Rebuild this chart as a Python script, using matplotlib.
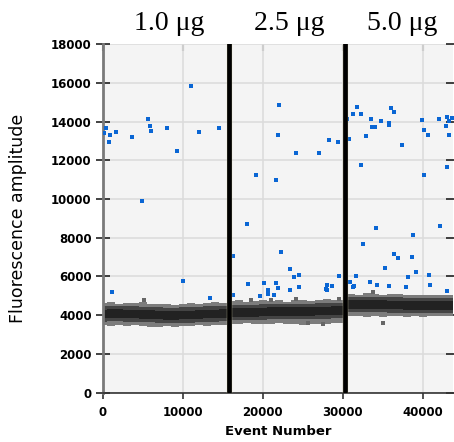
import matplotlib
matplotlib.use("Agg")
import matplotlib.pyplot as plt
import numpy as np

# dose labels and the event numbers where each new dose starts
dose_labels = ["1.0 μg", "2.5 μg", "5.0 μg"]
dose_label_x = [8300, 23300, 37400]
dose_breaks = [15825, 30325]

# positive droplets (blue), event number / amplitude
pos_x = [375, 125, 950, 1663, 825, 3663, 5663, 5875, 6000, 8038, 9325, 11000,
         12000, 14575, 4950, 1200, 10000, 13413,
         16325, 18000, 16325, 18125, 19200, 19663, 20200, 20700, 20700, 21413,
         21663, 21875, 21663, 21875, 22000, 22325, 23413, 23413, 23875, 24125,
         24575, 24575, 27075, 27875, 28000, 28000, 28250, 28700, 29413, 29538,
         30575, 30825, 30913, 31250, 31413, 31288, 31750, 31663, 32325, 32325,
         32575, 32875, 33413, 33538, 33700, 34038, 34200, 34325, 34825, 35288,
         35750, 35750, 35788, 36000, 36450, 36450, 36950, 37413, 37875, 38125,
         38625, 38788, 39163, 39875, 40125, 40200, 40700, 40825, 40950, 42000,
         42125, 42950, 43075, 43325, 43288, 43625, 43038, 43038]
pos_y = [13675, 13432, 13328, 13483, 12935, 13194, 14155, 13762, 13520, 13675,
         12501, 15861, 13483, 13659, 9917, 5199, 5783, 4904,
         7044, 8698, 5044, 5628, 11230, 4992, 5680, 5302, 5111, 5044,
         5680, 5390, 10987, 13328, 14848, 7282, 6372, 5302, 5959, 12398,
         6062, 5442, 12398, 5339, 5287, 5576, 13039, 5525, 12935, 6026,
         14155, 13091, 5700, 5442, 5494, 14398, 14744, 6026, 14398, 11762,
         7680, 13277, 5731, 14155, 13711, 13711, 8507, 5545, 14021, 6455,
         13948, 13814, 5494, 14693, 14501, 7147, 6941, 12796, 5442, 5974,
         6992, 8129, 6217, 14103, 13571, 11230, 13328, 6062, 5576, 14155,
         8610, 13762, 14259, 14021, 13328, 14207, 11675, 5251]

# negative droplet band, sampled every ~1000 events
band_x = list(range(0, 16000, 1000)) + list(range(16000, 31000, 1000)) + \
    list(range(31000, 44000, 1000)) + [43800]
band_center = [4060, 4080, 4070, 4060, 4050, 4040, 4020, 4000, 3990, 3990, 4000,
               4010, 4030, 4050, 4060, 4070,
               4130, 4140, 4150, 4150, 4160, 4170, 4170, 4180, 4190, 4190, 4200,
               4210, 4210, 4220, 4230,
               4540, 4560, 4550, 4540, 4530, 4520, 4520, 4510, 4500, 4500, 4490,
               4490, 4500, 4500]
band_top = [4620, 4680, 4600, 4650, 4610, 4700, 4580, 4560, 4600, 4550, 4590,
            4620, 4580, 4640, 4660, 4630,
            4720, 4760, 4700, 4740, 4780, 4720, 4760, 4700, 4800, 4760, 4740,
            4790, 4820, 4780, 4800,
            5100, 5060, 5140, 5080, 5050, 5120, 5070, 5040, 5060, 5030, 5050,
            5020, 5040, 5060]
band_bot = [3480, 3450, 3500, 3440, 3470, 3430, 3400, 3380, 3420, 3400, 3440,
            3460, 3470, 3450, 3480, 3500,
            3560, 3540, 3580, 3560, 3520, 3560, 3580, 3550, 3540, 3500, 3560,
            3520, 3540, 3580, 3600,
            3960, 3940, 3920, 3950, 3930, 3960, 3940, 3920, 3950, 3930, 3940,
            3960, 3950, 3940]

# stray negatives just outside the band
neg_x = [5200, 18575, 21075, 24163, 29538, 25700, 27575, 35000, 33825]
neg_y = [4770, 4770, 4785, 4820, 4820, 3580, 3530, 3580, 5183]

fig = plt.figure(figsize=(4.54, 4.42), dpi=100)
ax = fig.add_axes([0.2262, 0.1118, 0.7716, 0.788])
ax.set_facecolor("#f4f4f4")

bx = np.array(band_x)
bc = np.array(band_center)
bt = np.array(band_top)
bb = np.array(band_bot)
edges = [0] + dose_breaks + [44000]
for lo, hi in zip(edges[:-1], edges[1:]):
    m = (bx >= lo) & (bx < hi)
    xs = np.concatenate([[lo], bx[m], [min(hi, 43800)]])
    pad = lambda a: np.concatenate([[a[m][0]], a[m], [a[m][-1]]])
    ax.fill_between(xs, pad(bb), pad(bt), step="mid", color="#7c7c7c", lw=0, zorder=2)
    ax.fill_between(xs, pad(bc) - 390, pad(bc) + 400, step="mid", color="#444444", lw=0, zorder=2)
    ax.fill_between(xs, pad(bc) - 220, pad(bc) + 230, step="mid", color="#222222", lw=0, zorder=2)

ax.scatter(neg_x, neg_y, marker="s", s=6, color="#666666", linewidths=0, zorder=3)
ax.scatter(pos_x, pos_y, marker="s", s=8, color="#0a66d4", linewidths=0, zorder=3)

for xb in dose_breaks:
    ax.axvline(xb, color="#e0ddb0", lw=3.8, zorder=4)
    ax.axvline(xb, color="black", lw=3.4, zorder=5)

ax.set_xlim(0, 43800)
ax.set_ylim(0, 18000)
ax.set_xticks([0, 10000, 20000, 30000, 40000])
ax.set_yticks(range(0, 18001, 2000))
ax.grid(True, color="#dcdcdc", lw=1.2, zorder=1)
ax.set_axisbelow(True)

for s in ["top", "right"]:
    ax.spines[s].set_visible(False)
ax.spines["left"].set_color("#7a7a7a")
ax.spines["left"].set_linewidth(2)
ax.spines["bottom"].set_color("#333333")
ax.spines["bottom"].set_linewidth(1.2)

ax.tick_params(axis="y", direction="inout", length=10, width=1.2, color="#222222",
               right=True, labelsize=8.5, pad=3)
ax.tick_params(axis="x", direction="out", length=4, width=1.2, color="#333333",
               labelsize=8.5, pad=6)
for lab in ax.get_xticklabels() + ax.get_yticklabels():
    lab.set_fontweight("bold")

# short inward ticks along the top edge
top = ax.secondary_xaxis("top")
top.set_xticks([0, 10000, 20000, 30000, 40000])
top.tick_params(direction="in", length=5, width=1.5, color="#888888", labeltop=False)
top.spines["top"].set_visible(False)

ax.set_ylabel("Fluorescence amplitude", fontsize=12.5)
ax.yaxis.set_label_coords(-0.215, 0.5)
ax.set_xlabel("Event Number", fontsize=9.5, fontweight="bold", labelpad=4)

for lbl, lx in zip(dose_labels, dose_label_x):
    ax.text(lx, 1.06, lbl, transform=ax.get_xaxis_transform(), ha="center",
            va="center", fontsize=20, family="Liberation Serif")

fig.savefig("out.png", dpi=100)
